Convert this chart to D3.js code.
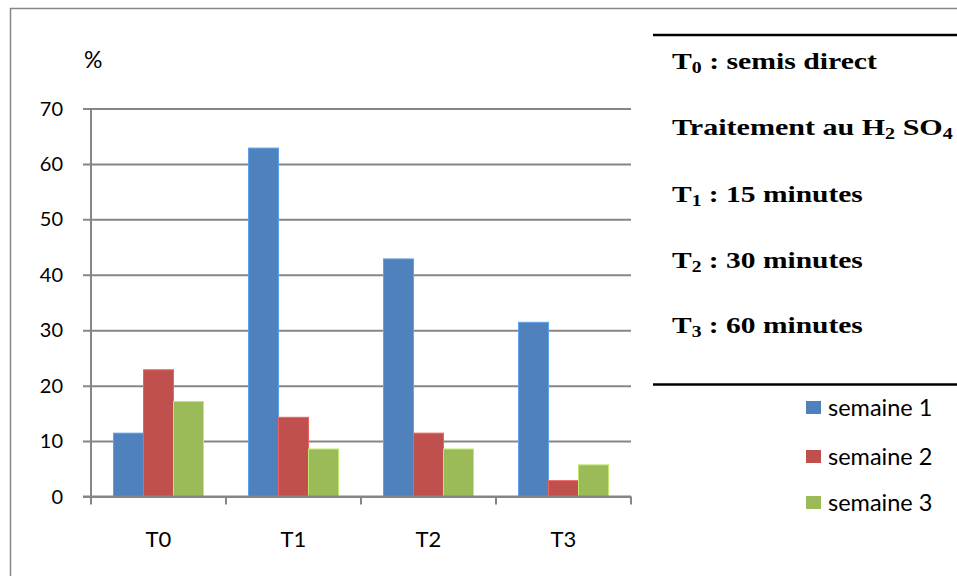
<!DOCTYPE html>
<html>
<head>
<meta charset="utf-8">
<script src="https://cdn.jsdelivr.net/npm/d3@7"></script>
<style>
  html, body { margin: 0; padding: 0; background: #fff; }
  svg { display: block; }
</style>
</head>
<body>
<svg id="chart" width="957" height="576"></svg>
<script>
// Treatments and weekly germination rates (%)
const categories = ["T0", "T1", "T2", "T3"];
const seriesNames = ["semaine 1", "semaine 2", "semaine 3"];
const semaine1 = [11.43, 62.86, 42.86, 31.43];
const semaine2 = [22.86, 14.29, 11.43, 2.86];
const semaine3 = [17.14, 8.57, 8.57, 5.71];
const yTicks = [0, 10, 20, 30, 40, 50, 60, 70];
const colors = ["#4F81BD", "#C0504D", "#9BBB59"];

// Treatment notes: runs of [text, isSubscript]
const notes = [
  [["T", false], ["0", true], [" : semis direct", false]],
  [["Traitement au H", false], ["2", true], [" SO", false], ["4", true]],
  [["T", false], ["1", true], [" : 15 minutes", false]],
  [["T", false], ["2", true], [" : 30 minutes", false]],
  [["T", false], ["3", true], [" : 60 minutes", false]]
];
const noteWidths = [205, 281, 191, 191, 191];

const seriesValues = [semaine1, semaine2, semaine3];
const svg = d3.select("#chart");
const font = "Lato, 'Open Sans', sans-serif";
const gridColor = "#868686";

// Outer frame
svg.append("path")
  .attr("d", "M10.5,580 V8.5 H960")
  .attr("fill", "none")
  .attr("stroke", gridColor)
  .attr("stroke-width", 1.5);

const plot = { left: 91, right: 631, top: 108.5, bottom: 496.5 };

const y = d3.scaleLinear().domain([0, 70]).range([plot.bottom, plot.top]);
const x0 = d3.scaleBand().domain(categories).range([plot.left, plot.right])
  .paddingInner(1 / 3).paddingOuter(1 / 6);
const x1 = d3.scaleBand().domain(seriesNames).range([0, x0.bandwidth()]);

// Horizontal gridlines with left tick marks
svg.append("g")
  .attr("transform", `translate(${plot.left},0)`)
  .call(d3.axisLeft(y).tickValues(yTicks).tickSizeInner(-(plot.right - plot.left)).tickSizeOuter(0).tickFormat(""))
  .call(g => g.select(".domain").remove())
  .call(g => g.selectAll(".tick line")
    .attr("x1", -8)
    .attr("stroke", gridColor).attr("stroke-width", 2));

// Y tick labels
svg.append("g").selectAll("text")
  .data(yTicks).join("text")
  .attr("x", 63)
  .attr("y", d => y(d) + 7)
  .attr("text-anchor", "end")
  .attr("font-family", font)
  .attr("font-size", 20)
  .attr("fill", "#000")
  .text(d => d);

// Bars
const groups = svg.append("g").selectAll("g")
  .data(categories).join("g")
  .attr("transform", d => `translate(${x0(d)},0)`);

groups.selectAll("rect")
  .data((c, i) => seriesNames.map((s, j) => ({ s, j, v: seriesValues[j][i] })))
  .join("rect")
  .attr("x", d => x1(d.s))
  .attr("y", d => y(d.v))
  .attr("width", x1.bandwidth())
  .attr("height", d => y(0) - y(d.v))
  .attr("fill", d => colors[d.j])
  .attr("stroke", d => d3.color(colors[d.j]).brighter(0.6))
  .attr("stroke-width", 1);

// Y axis line
svg.append("line")
  .attr("x1", plot.left).attr("x2", plot.left)
  .attr("y1", plot.top).attr("y2", plot.bottom)
  .attr("stroke", gridColor).attr("stroke-width", 2);

// X axis with category separators
const xAxis = svg.append("g")
  .attr("transform", `translate(0,${plot.bottom})`);
xAxis.append("line")
  .attr("x1", plot.left - 8).attr("x2", plot.right)
  .attr("stroke", gridColor).attr("stroke-width", 2);
const step = x0.step();
xAxis.selectAll("line.sep")
  .data(d3.range(categories.length + 1))
  .join("line").attr("class", "sep")
  .attr("x1", i => plot.left + i * step).attr("x2", i => plot.left + i * step)
  .attr("y1", 0).attr("y2", 8)
  .attr("stroke", gridColor).attr("stroke-width", 2);

svg.append("g").selectAll("text")
  .data(categories).join("text")
  .attr("x", d => x0(d) + x0.bandwidth() / 2)
  .attr("y", 547)
  .attr("text-anchor", "middle")
  .attr("font-family", font)
  .attr("font-size", 22)
  .attr("fill", "#000")
  .text(d => d);

// Unit label
svg.append("text")
  .attr("x", 84).attr("y", 68)
  .attr("font-family", font)
  .attr("font-size", 23)
  .attr("fill", "#000")
  .text("%");

// Treatment notes block
svg.append("line")
  .attr("x1", 653).attr("x2", 957).attr("y1", 35).attr("y2", 35)
  .attr("stroke", "#000").attr("stroke-width", 2.5);
svg.append("line")
  .attr("x1", 653).attr("x2", 957).attr("y1", 384.5).attr("y2", 384.5)
  .attr("stroke", "#000").attr("stroke-width", 2.5);

const noteBase = [69, 135, 202, 268, 333];
notes.forEach((parts, i) => {
  const g = svg.append("g");
  const t = g.append("text")
    .attr("x", 0).attr("y", 0)
    .attr("font-family", "'Liberation Serif', 'Times New Roman', serif")
    .attr("font-weight", "bold")
    .attr("font-size", 24)
    .attr("fill", "#000");
  parts.forEach(([txt, sub], k) => {
    const prevSub = k > 0 && parts[k - 1][1];
    t.append("tspan")
      .text(txt)
      .attr("font-size", sub ? 16 : null)
      .attr("dy", sub ? 4 : (prevSub ? -4 : 0));
  });
  // stretch each line horizontally to its column width
  const natural = t.node().getComputedTextLength();
  const sx = noteWidths[i] / natural;
  g.attr("transform", `translate(672,${noteBase[i]}) scale(${sx},1)`);
});

// Series legend
const legY = [408, 457, 503];
const leg = svg.append("g").selectAll("g")
  .data(seriesNames).join("g")
  .attr("transform", (d, i) => `translate(806,${legY[i]})`);
leg.append("rect")
  .attr("x", 0).attr("y", -7).attr("width", 15).attr("height", 13)
  .attr("fill", (d, i) => colors[i]);
leg.append("text")
  .attr("x", 22).attr("y", 8)
  .attr("font-family", font)
  .attr("font-size", 23.5)
  .attr("fill", "#000")
  .text(d => d);
</script>
</body>
</html>
